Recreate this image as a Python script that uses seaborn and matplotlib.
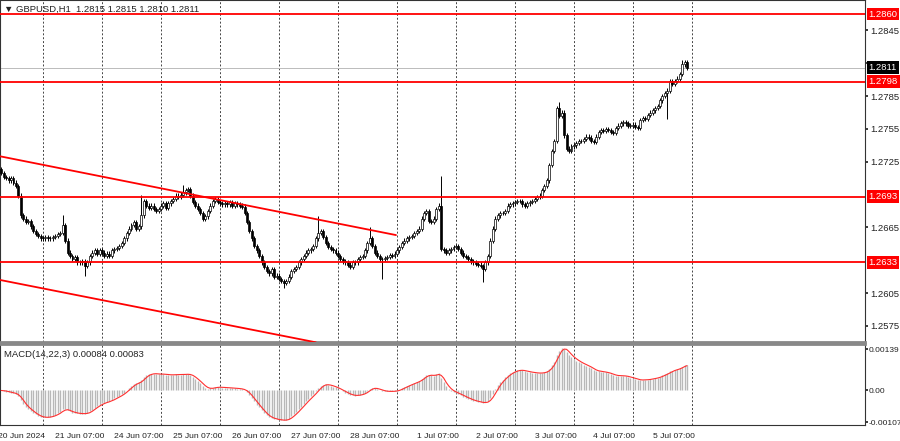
import numpy as np
import pandas as pd
import matplotlib
matplotlib.use("Agg")
import matplotlib.pyplot as plt
import seaborn as sns

# hourly closes GBPUSD, 20 Jun 2024 -> 5 Jul 2024
closes = [
    1.2715, 1.2711, 1.2710, 1.2708, 1.2710, 1.2706, 1.2703, 1.2694,
    1.2676, 1.2673, 1.2670, 1.2671, 1.2666, 1.2662, 1.2659, 1.2657,
    1.2655, 1.2655, 1.2656, 1.2655, 1.2655, 1.2656, 1.2657, 1.2659,
    1.2660, 1.2667, 1.2653, 1.2642, 1.2639, 1.2636, 1.2638, 1.2633,
    1.2633, 1.2634, 1.2630, 1.2633, 1.2639, 1.2642, 1.2644, 1.2641,
    1.2644, 1.2642, 1.2639, 1.2641, 1.2639, 1.2644, 1.2645, 1.2646,
    1.2648, 1.2651, 1.2655, 1.2660, 1.2664, 1.2667, 1.2670, 1.2664,
    1.2666, 1.2676, 1.2689, 1.2685, 1.2683, 1.2685, 1.2682, 1.2680,
    1.2682, 1.2685, 1.2687, 1.2683, 1.2687, 1.2689, 1.2691, 1.2694,
    1.2693, 1.2695, 1.2697, 1.2699, 1.2700, 1.2694, 1.2688, 1.2685,
    1.2682, 1.2678, 1.2673, 1.2675, 1.2680, 1.2685, 1.2689, 1.2691,
    1.2688, 1.2687, 1.2686, 1.2687, 1.2686, 1.2688, 1.2685, 1.2687,
    1.2686, 1.2685, 1.2684, 1.2678, 1.2670, 1.2662, 1.2655, 1.2648,
    1.2644, 1.2639, 1.2633, 1.2629, 1.2625, 1.2623, 1.2627, 1.2620,
    1.2621, 1.2618, 1.2616, 1.2614, 1.2616, 1.2620, 1.2625, 1.2627,
    1.2629, 1.2633, 1.2636, 1.2639, 1.2642, 1.2644, 1.2645, 1.2648,
    1.2655, 1.2660, 1.2662, 1.2656, 1.2651, 1.2647, 1.2645, 1.2644,
    1.2642, 1.2639, 1.2636, 1.2634, 1.2633, 1.2631, 1.2629, 1.2633,
    1.2633, 1.2636, 1.2638, 1.2639, 1.2644, 1.2651, 1.2655, 1.2648,
    1.2642, 1.2639, 1.2636, 1.2636, 1.2637, 1.2638, 1.2640, 1.2639,
    1.2641, 1.2644, 1.2647, 1.2651, 1.2653, 1.2655, 1.2656, 1.2657,
    1.2660, 1.2662, 1.2664, 1.2673, 1.2678, 1.2680, 1.2671, 1.2670,
    1.2673, 1.2682, 1.2685, 1.2645, 1.2644, 1.2642, 1.2644, 1.2645,
    1.2647, 1.2648, 1.2645, 1.2642, 1.2639, 1.2638, 1.2636, 1.2634,
    1.2633, 1.2632, 1.2631, 1.2630, 1.2627, 1.2633, 1.2639, 1.2653,
    1.2664, 1.2673, 1.2676, 1.2678, 1.2678, 1.2680, 1.2685, 1.2686,
    1.2687, 1.2688, 1.2689, 1.2689, 1.2686, 1.2685, 1.2687, 1.2688,
    1.2689, 1.2691, 1.2693, 1.2694, 1.2699, 1.2703, 1.2708, 1.2722,
    1.2735, 1.2744, 1.2774, 1.2767, 1.2770, 1.2749, 1.2737, 1.2735,
    1.2739, 1.2740, 1.2742, 1.2744, 1.2744, 1.2746, 1.2748, 1.2747,
    1.2744, 1.2743, 1.2748, 1.2752, 1.2754, 1.2753, 1.2755, 1.2754,
    1.2752, 1.2751, 1.2756, 1.2758, 1.2760, 1.2761, 1.2760, 1.2758,
    1.2758, 1.2759, 1.2757, 1.2756, 1.2763, 1.2765, 1.2764, 1.2768,
    1.2770, 1.2772, 1.2774, 1.2776, 1.2781, 1.2785, 1.2788, 1.2790,
    1.2799, 1.2796, 1.2799, 1.2801, 1.2805, 1.2814, 1.2816, 1.2811,
]
first_open = 1.2718
# notable wicks {candle index: price}
spike_highs = {25: 1.2676, 57: 1.2695, 74: 1.2704, 129: 1.2675, 150: 1.2665,
               179: 1.2712, 227: 1.2780, 277: 1.2818}
spike_lows = {34: 1.2621, 115: 1.2610, 155: 1.2618, 196: 1.2615, 271: 1.2764}

levels = [1.2860, 1.2798, 1.2693, 1.2633]
last_price = 1.2811
# channel lines: (index, price) endpoints
upper_line_x = [-0.5, 160.6]
upper_line_y = [1.2730, 1.2658]
lower_line_x = [-0.5, 128.0]
lower_line_y = [1.2617, 1.2560]

price_ticks = [1.2575, 1.2605, 1.2665, 1.2725, 1.2755, 1.2785, 1.2815, 1.2845]
grid_idx = [17 + 24 * k for k in range(12)]
date_labels = ["20 Jun 2024", "21 Jun 07:00", "24 Jun 07:00", "25 Jun 07:00",
               "26 Jun 07:00", "27 Jun 07:00", "28 Jun 07:00", "1 Jul 07:00",
               "2 Jul 07:00", "3 Jul 07:00", "4 Jul 07:00", "5 Jul 07:00"]

# ---- OHLC table
df = pd.DataFrame({"close": closes})
df["open"] = [first_open] + closes[:-1]
wick = 0.0002
df["high"] = df[["open", "close"]].max(axis=1) + wick
df["low"] = df[["open", "close"]].min(axis=1) - wick
for k, v in spike_highs.items():
    df.loc[k, "high"] = v
for k, v in spike_lows.items():
    df.loc[k, "low"] = v
df["i"] = np.arange(len(df))

# MACD(14,22,3)
ema_fast = df["close"].ewm(span=14, adjust=False).mean()
ema_slow = df["close"].ewm(span=22, adjust=False).mean()
df["macd"] = ema_fast - ema_slow
df["signal"] = df["macd"].rolling(3, min_periods=1).mean()

sns.set_theme(style="white")
plt.rcParams["font.family"] = "Liberation Sans"
FS = 6.8
fig = plt.figure(figsize=(9, 4.41), dpi=100)
ax = fig.add_axes([0.0, 1 - 342 / 441, 865 / 900, 342 / 441])
axm = fig.add_axes([0.0, 1 - 425 / 441, 865 / 900, 81 / 441])

xlim = (-0.49, 351.4)
for a in (ax, axm):
    a.set_xlim(*xlim)
    for g in grid_idx:
        a.axvline(g, color="#444444", lw=0.7, ls=(0, (2, 2)), zorder=0)
    for s in a.spines.values():
        s.set_color("#333333")
        s.set_linewidth(0.8)
    a.yaxis.tick_right()
    a.tick_params(axis="y", labelsize=FS, length=2, pad=1.5, colors="#222222")
    a.tick_params(axis="x", length=0)
    a.set_xticks([])
axm.tick_params(axis="y", labelsize=6.0, pad=0.8)
ax.spines["bottom"].set_color("#888888")
ax.spines["bottom"].set_linewidth(2)
axm.spines["top"].set_color("#888888")
axm.spines["top"].set_linewidth(2)

# candles
up = df["close"] >= df["open"]
ax.vlines(df["i"], df["low"], df["high"], color="black", lw=0.7, zorder=2)
body_bottom = df[["open", "close"]].min(axis=1)
body_h = (df["close"] - df["open"]).abs().clip(lower=0.00004)
ax.bar(df["i"][up], body_h[up], bottom=body_bottom[up], width=0.8,
       color="white", edgecolor="black", linewidth=0.5, zorder=3)
ax.bar(df["i"][~up], body_h[~up], bottom=body_bottom[~up], width=0.8,
       color="black", edgecolor="black", linewidth=0.5, zorder=3)

# levels and channel
for lv in levels:
    ax.axhline(lv, color="red", lw=1.3, zorder=4)
ax.axhline(last_price, color="#bbbbbb", lw=0.7, zorder=1)
sns.lineplot(x=upper_line_x, y=upper_line_y, ax=ax, color="red", lw=1.3, zorder=4)
sns.lineplot(x=lower_line_x, y=lower_line_y, ax=ax, color="red", lw=1.3, zorder=4)

ax.set_ylim(1.25603, 1.28728)
ax.set_yticks(price_ticks)
ax.set_yticklabels([f"{t:.4f}" for t in price_ticks])
box_x = 1.004
for lv in levels:
    ax.text(box_x, lv, f"{lv:.4f}", transform=ax.get_yaxis_transform(), fontsize=FS,
            color="white", va="center", ha="left", zorder=10, clip_on=False,
            bbox=dict(boxstyle="square,pad=0.2", fc="#ff0000", ec="none"))
ax.text(box_x, last_price, f"{last_price:.4f}", transform=ax.get_yaxis_transform(),
        fontsize=FS, color="white", va="center", ha="left", zorder=10, clip_on=False,
        bbox=dict(boxstyle="square,pad=0.2", fc="black", ec="none"))
ax.text(0.005, 0.985, "\u25bc GBPUSD,H1  1.2815 1.2815 1.2810 1.2811",
        transform=ax.transAxes, fontsize=FS, va="top", ha="left", color="#222222")

# MACD panel
axm.vlines(df["i"], 0, df["macd"], color="#b8b8b8", lw=1.0, zorder=2)
sns.lineplot(x=df["i"], y=df["signal"], ax=axm, color="#ff3030", lw=0.8, zorder=3)
axm.set_ylim(-0.00116, 0.00156)
axm.set_yticks([-0.00107, 0.0, 0.00139])
axm.set_yticklabels(["-0.00107", "0.00", "0.00139"])
axm.set_xlabel("")
axm.set_ylabel("")
ax.set_xlabel("")
ax.set_ylabel("")
axm.text(0.005, 0.93, "MACD(14,22,3) 0.00084 0.00083", transform=axm.transAxes,
         fontsize=FS, va="top", ha="left", color="#222222")

for g, lab in zip(grid_idx, date_labels):
    axm.text(g + 1.0, -0.14, lab, transform=axm.get_xaxis_transform(), fontsize=6.1,
             ha="right", va="center", color="#222222")

fig.savefig("out.png", dpi=100, facecolor="white")
